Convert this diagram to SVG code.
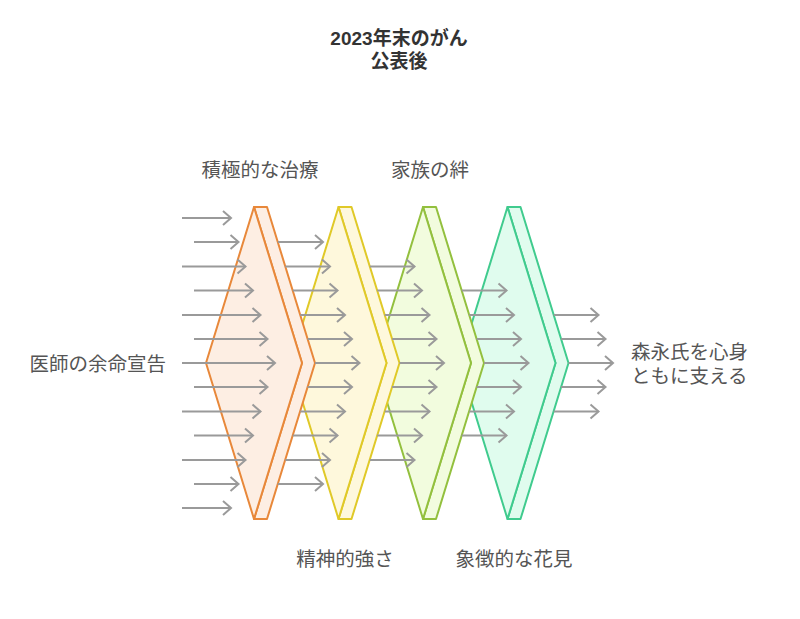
<svg xmlns="http://www.w3.org/2000/svg" width="800" height="619" viewBox="0 0 800 619">
<style>
.lbl{font-family:"Liberation Sans","Noto Sans CJK JP",sans-serif;font-size:19.5px;fill:#555555}
.ttl{font-family:"Liberation Sans","Noto Sans CJK JP",sans-serif;font-size:19px;font-weight:bold;fill:#333333}
.shape path{stroke-width:2;stroke-linejoin:round}
.arr path{fill:none;stroke:#9a9a9a;stroke-width:2}
</style>
<defs>
<marker id="ah" markerUnits="userSpaceOnUse" markerWidth="12" markerHeight="18" viewBox="0 0 12 18" refX="10" refY="9" orient="auto">
<path d="M2,2 L10,9 L2,16" fill="none" stroke="#9a9a9a" stroke-width="2"/>
</marker>
</defs>
<rect width="800" height="619" fill="#ffffff"/>
<g id="title">
<text class="ttl" x="399" y="45" text-anchor="middle">2023年末のがん</text>
<text class="ttl" x="399" y="68" text-anchor="middle">公表後</text>
</g>
<g id="stage4" class="shape" transform="translate(253.5,0)">
<path d="M254,207 L267,207 L315,363 L267,519 L254,519 L302,363 Z" fill="#e0fcee" stroke="#40cb8e"/>
<path d="M254,207 L302,363 L254,519 L206,363 Z" fill="#e0fcee" stroke="#40cb8e"/>
</g>
<g id="stage3" class="shape" transform="translate(169,0)">
<path d="M254,207 L267,207 L315,363 L267,519 L254,519 L302,363 Z" fill="#f2fcde" stroke="#93c03e"/>
<path d="M254,207 L302,363 L254,519 L206,363 Z" fill="#f2fcde" stroke="#93c03e"/>
</g>
<g id="stage2" class="shape" transform="translate(84.5,0)">
<path d="M254,207 L267,207 L315,363 L267,519 L254,519 L302,363 Z" fill="#fef8dc" stroke="#e0c928"/>
<path d="M254,207 L302,363 L254,519 L206,363 Z" fill="#fef8dc" stroke="#e0c928"/>
</g>
<g id="stage1" class="shape">
<path d="M254,207 L267,207 L315,363 L267,519 L254,519 L302,363 Z" fill="#fdeee3" stroke="#e8883a"/>
<path d="M254,207 L302,363 L254,519 L206,363 Z" fill="#fdeee3" stroke="#e8883a"/>
</g>
<g id="connectors" class="arr">
<path marker-end="url(#ah)" d="M182,218 H231"/>
<path marker-end="url(#ah)" d="M194,242 H238.5"/>
<path marker-end="url(#ah)" d="M182,266.5 H245.5"/>
<path marker-end="url(#ah)" d="M194,290.5 H253"/>
<path marker-end="url(#ah)" d="M182,315 H260.5"/>
<path marker-end="url(#ah)" d="M194,339 H267.5"/>
<path marker-end="url(#ah)" d="M182,363 H275"/>
<path marker-end="url(#ah)" d="M194,387 H267.5"/>
<path marker-end="url(#ah)" d="M182,411.5 H260.5"/>
<path marker-end="url(#ah)" d="M194,435.5 H253"/>
<path marker-end="url(#ah)" d="M182,460 H245.5"/>
<path marker-end="url(#ah)" d="M194,484 H238.5"/>
<path marker-end="url(#ah)" d="M182,508 H231"/>

<path marker-end="url(#ah)" d="M277.8,242 H323"/>
<path marker-end="url(#ah)" d="M285.3,266.5 H330"/>
<path marker-end="url(#ah)" d="M292.7,290.5 H337.5"/>
<path marker-end="url(#ah)" d="M300.2,315 H345"/>
<path marker-end="url(#ah)" d="M307.6,339 H352"/>
<path marker-end="url(#ah)" d="M315,363 H359.5"/>
<path marker-end="url(#ah)" d="M307.6,387 H352"/>
<path marker-end="url(#ah)" d="M300.2,411.5 H345"/>
<path marker-end="url(#ah)" d="M292.7,435.5 H337.5"/>
<path marker-end="url(#ah)" d="M285.3,460 H330"/>
<path marker-end="url(#ah)" d="M277.8,484 H323"/>

<path marker-end="url(#ah)" d="M369.8,266.5 H414.5"/>
<path marker-end="url(#ah)" d="M377.2,290.5 H422"/>
<path marker-end="url(#ah)" d="M384.7,315 H429.5"/>
<path marker-end="url(#ah)" d="M392.1,339 H436.5"/>
<path marker-end="url(#ah)" d="M399.5,363 H444"/>
<path marker-end="url(#ah)" d="M392.1,387 H436.5"/>
<path marker-end="url(#ah)" d="M384.7,411.5 H429.5"/>
<path marker-end="url(#ah)" d="M377.2,435.5 H422"/>
<path marker-end="url(#ah)" d="M369.8,460 H414.5"/>

<path marker-end="url(#ah)" d="M461.7,290.5 H506.5"/>
<path marker-end="url(#ah)" d="M469.2,315 H514"/>
<path marker-end="url(#ah)" d="M476.6,339 H521"/>
<path marker-end="url(#ah)" d="M484,363 H528.5"/>
<path marker-end="url(#ah)" d="M476.6,387 H521"/>
<path marker-end="url(#ah)" d="M469.2,411.5 H514"/>
<path marker-end="url(#ah)" d="M461.7,435.5 H506.5"/>

<path marker-end="url(#ah)" d="M553.7,315 H598.5"/>
<path marker-end="url(#ah)" d="M561.1,339 H605.5"/>
<path marker-end="url(#ah)" d="M568.5,363 H613"/>
<path marker-end="url(#ah)" d="M561.1,387 H605.5"/>
<path marker-end="url(#ah)" d="M553.7,411.5 H598.5"/>
</g>
<g id="label-input"><text class="lbl" x="166" y="370.5" text-anchor="end">医師の余命宣告</text></g>
<g id="label-stage1"><text class="lbl" x="260" y="177" text-anchor="middle">積極的な治療</text></g>
<g id="label-stage2"><text class="lbl" x="345" y="565.5" text-anchor="middle">精神的強さ</text></g>
<g id="label-stage3"><text class="lbl" x="430" y="177" text-anchor="middle">家族の絆</text></g>
<g id="label-stage4"><text class="lbl" x="514" y="565.5" text-anchor="middle">象徴的な花見</text></g>
<g id="label-output">
<text class="lbl" x="631" y="358.5">森永氏を心身</text>
<text class="lbl" x="631" y="382.5">ともに支える</text>
</g>
</svg>
